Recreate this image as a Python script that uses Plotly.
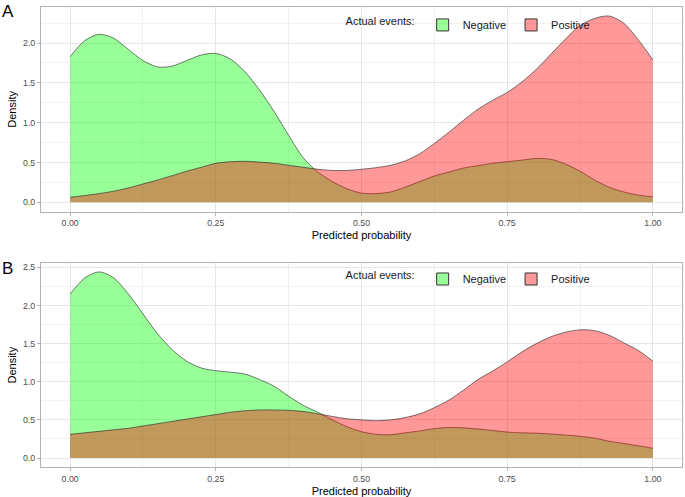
import plotly.graph_objects as go
from plotly.subplots import make_subplots

# predicted probability grid
prob = [0.000, 0.025, 0.050, 0.075, 0.100, 0.125, 0.150, 0.175, 0.200, 0.225,
        0.250, 0.275, 0.300, 0.325, 0.350, 0.375, 0.400, 0.425, 0.450, 0.475,
        0.500, 0.525, 0.550, 0.575, 0.600, 0.625, 0.650, 0.675, 0.700, 0.725,
        0.750, 0.775, 0.800, 0.825, 0.850, 0.875, 0.900, 0.925, 0.950, 0.975, 1.000]

# Panel A densities
a_negative = [1.83, 2.03, 2.11, 2.06, 1.92, 1.78, 1.70, 1.71, 1.78, 1.85,
              1.87, 1.80, 1.64, 1.41, 1.14, 0.84, 0.56, 0.38, 0.26, 0.17,
              0.115, 0.11, 0.13, 0.19, 0.26, 0.33, 0.38, 0.43, 0.46, 0.49,
              0.51, 0.53, 0.55, 0.54, 0.48, 0.39, 0.28, 0.19, 0.13, 0.09, 0.07]
a_positive = [0.063, 0.085, 0.11, 0.14, 0.18, 0.23, 0.28, 0.335, 0.39, 0.44,
              0.49, 0.51, 0.515, 0.505, 0.49, 0.465, 0.44, 0.415, 0.40, 0.40,
              0.415, 0.435, 0.465, 0.52, 0.61, 0.74, 0.88, 1.03, 1.17, 1.28,
              1.38, 1.51, 1.67, 1.86, 2.05, 2.22, 2.31, 2.34, 2.25, 2.04, 1.79]

# Panel B densities
b_negative = [2.15, 2.36, 2.44, 2.36, 2.15, 1.89, 1.63, 1.42, 1.27, 1.18,
              1.145, 1.125, 1.10, 1.03, 0.94, 0.81, 0.69, 0.60, 0.50, 0.41,
              0.345, 0.31, 0.305, 0.33, 0.355, 0.385, 0.40, 0.395, 0.38, 0.36,
              0.34, 0.33, 0.325, 0.315, 0.30, 0.285, 0.26, 0.22, 0.19, 0.16, 0.127]
b_positive = [0.31, 0.33, 0.35, 0.37, 0.39, 0.42, 0.45, 0.48, 0.51, 0.54,
              0.57, 0.60, 0.62, 0.63, 0.63, 0.625, 0.61, 0.58, 0.545, 0.515,
              0.50, 0.49, 0.50, 0.53, 0.58, 0.66, 0.76, 0.89, 1.03, 1.14,
              1.26, 1.39, 1.50, 1.59, 1.65, 1.68, 1.67, 1.61, 1.51, 1.41, 1.27]

groups = ["Negative", "Positive"]
x_ticks = [0.00, 0.25, 0.50, 0.75, 1.00]
x_minor = [0.125, 0.375, 0.625, 0.875]
a_yticks = [0.0, 0.5, 1.0, 1.5, 2.0]
b_yticks = [0.0, 0.5, 1.0, 1.5, 2.0, 2.5]
y_minor = [0.25, 0.75, 1.25, 1.75, 2.25]

fill_col = {"Negative": "rgba(0,255,0,0.4)", "Positive": "rgba(255,0,0,0.4)"}
line_col = "rgba(30,30,30,0.85)"
FONT = "Liberation Sans, Arial, sans-serif"

fig = make_subplots(rows=2, cols=1, vertical_spacing=0.11)

panels = [(1, a_negative, a_positive, "legend"), (2, b_negative, b_positive, "legend2")]
for row, neg, pos, leg in panels:
    for name, vals in zip(groups, [neg, pos]):
        fig.add_trace(go.Scatter(
            x=prob, y=vals, mode="lines", fill="tozeroy",
            fillcolor=fill_col[name],
            line=dict(color=line_col, width=0.7, shape="spline", smoothing=0.8),
            showlegend=False, hoverinfo="skip"), row=row, col=1)
    for name in groups:
        fig.add_trace(go.Scatter(
            x=[None], y=[None], mode="markers", name=name, legend=leg,
            marker=dict(symbol="square", size=12, color=fill_col[name],
                        line=dict(color="#333333", width=1))), row=row, col=1)

grid_major = "#E6E6E6"
grid_minor = "#F1F1F1"
axis_common = dict(
    showline=True, linecolor="#B3B3B3", linewidth=1, mirror=True,
    showgrid=True, gridcolor=grid_major, gridwidth=0.8,
    zeroline=False, ticks="outside", ticklen=3, tickcolor="#B3B3B3", tickwidth=1,
    tickfont=dict(family=FONT, size=8.8, color="#4D4D4D"),
    automargin=False,
)

for row in (1, 2):
    fig.update_xaxes(
        **axis_common, range=[-0.05, 1.05], tickmode="array", tickvals=x_ticks,
        ticktext=[f"{v:.2f}" for v in x_ticks],
        minor=dict(tickvals=x_minor, showgrid=True, gridcolor=grid_minor, gridwidth=0.6, ticklen=0),
        title=dict(text="Predicted probability", font=dict(family=FONT, size=11, color="#000000"), standoff=4),
        row=row, col=1)

fig.update_yaxes(
    **axis_common, range=[-0.118, 2.453], tickmode="array", tickvals=a_yticks,
    ticktext=[f"{v:.1f}" for v in a_yticks],
    minor=dict(tickvals=y_minor, showgrid=True, gridcolor=grid_minor, gridwidth=0.6, ticklen=0),
    title=dict(text="Density", font=dict(family=FONT, size=11, color="#000000"), standoff=4),
    row=1, col=1)
fig.update_yaxes(
    **axis_common, range=[-0.118, 2.553], tickmode="array", tickvals=b_yticks,
    ticktext=[f"{v:.1f}" for v in b_yticks],
    minor=dict(tickvals=y_minor, showgrid=True, gridcolor=grid_minor, gridwidth=0.6, ticklen=0),
    title=dict(text="Density", font=dict(family=FONT, size=11, color="#000000"), standoff=4),
    row=2, col=1)

fig.update_layout(
    xaxis=dict(domain=[0, 1]), xaxis2=dict(domain=[0, 1]),
    yaxis=dict(domain=[0.555, 1.0]), yaxis2=dict(domain=[0.0, 0.4428]),
)

legend_common = dict(
    orientation="h", xanchor="left", yanchor="middle",
    bgcolor="rgba(255,255,255,0)", borderwidth=0,
    font=dict(family=FONT, size=11, color="#1A1A1A"),
    title=dict(text="Actual events:", side="left", font=dict(family=FONT, size=11, color="#1A1A1A")),
    itemwidth=30, tracegroupgap=0,
)
fig.update_layout(
    legend=dict(**legend_common, x=0.472, y=0.961),
    legend2=dict(**legend_common, x=0.472, y=0.4087),
)

for label, ypos in (("A", 1.0152), ("B", 0.4565)):
    fig.add_annotation(text=label, xref="paper", yref="paper", x=-0.064, y=ypos,
                       xanchor="left", yanchor="top", showarrow=False,
                       font=dict(family=FONT, size=17, color="#000000"))

fig.update_layout(
    width=685, height=497,
    margin=dict(l=41, r=3, t=7, b=30),
    paper_bgcolor="white", plot_bgcolor="white",
    font=dict(family=FONT),
)

fig.write_html("out.html",
               config={"displayModeBar": False},
               post_script="document.body.style.margin='0';document.body.style.overflow='hidden';")
